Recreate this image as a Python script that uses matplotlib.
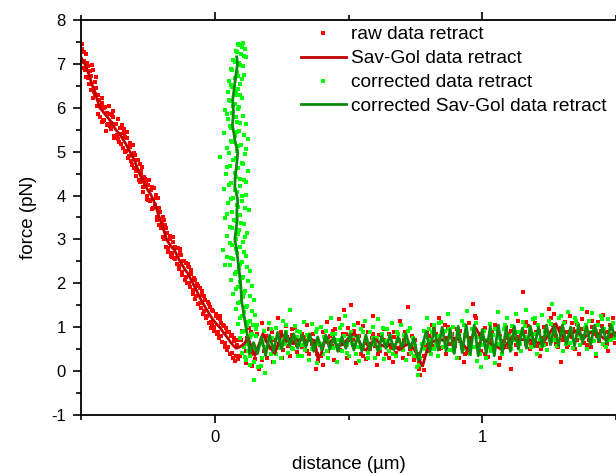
import matplotlib
matplotlib.use('Agg')
import matplotlib.pyplot as plt
from matplotlib.ticker import MultipleLocator

plt.rcParams['font.family'] = ['Liberation Sans', 'DejaVu Sans']
plt.rcParams['axes.unicode_minus'] = False

# raw data retract (red dots): slope part + baseline part
raw_x = [
  -0.497, -0.493, -0.487, -0.483, -0.477, -0.473, -0.467, -0.463, -0.457, -0.453,
  -0.447, -0.443, -0.437, -0.433, -0.427, -0.423, -0.417, -0.413, -0.407, -0.403,
  -0.397, -0.393, -0.387, -0.383, -0.377, -0.373, -0.367, -0.363, -0.357, -0.353,
  -0.347, -0.343, -0.337, -0.333, -0.327, -0.323, -0.317, -0.313, -0.307, -0.303,
  -0.297, -0.293, -0.287, -0.283, -0.277, -0.273, -0.267, -0.263, -0.257, -0.253,
  -0.247, -0.243, -0.237, -0.233, -0.227, -0.223, -0.217, -0.213, -0.207, -0.203,
  -0.197, -0.193, -0.187, -0.183, -0.177, -0.173, -0.167, -0.163, -0.157, -0.153,
  -0.147, -0.143, -0.137, -0.133, -0.127, -0.123, -0.117, -0.113, -0.107, -0.103,
  -0.097, -0.093, -0.087, -0.083, -0.077, -0.073, -0.067, -0.063, -0.057, -0.053,
  -0.047, -0.043, -0.037, -0.033, -0.027, -0.023, -0.017, -0.013, -0.007, -0.003,
  0.003, 0.007, 0.013, 0.017, 0.023, 0.027, 0.033, 0.037, 0.043, 0.047,
  0.053, 0.057, 0.063, 0.067, 0.073, 0.077, 0.083, 0.087,
  -0.495, -0.480, -0.460, -0.445, -0.420, -0.400, -0.380, -0.340, -0.310, -0.280,
  -0.250, -0.220, -0.190, -0.160, -0.130, -0.100, -0.070, -0.040, -0.010, 0.020,
  0.095, 0.102, 0.108, 0.115, 0.121, 0.128, 0.134, 0.141, 0.147, 0.152,
  0.158, 0.165, 0.171, 0.178, 0.184, 0.190, 0.197, 0.203, 0.210, 0.216,
  0.223, 0.229, 0.236, 0.242, 0.249, 0.255, 0.262, 0.268, 0.275, 0.281,
  0.288, 0.294, 0.301, 0.307, 0.314, 0.320, 0.327, 0.333, 0.340, 0.346,
  0.353, 0.359, 0.366, 0.372, 0.379, 0.385, 0.392, 0.398, 0.405, 0.411,
  0.418, 0.424, 0.431, 0.437, 0.444, 0.450, 0.457, 0.463, 0.470, 0.476,
  0.483, 0.489, 0.496, 0.502, 0.509, 0.515, 0.522, 0.528, 0.535, 0.541,
  0.548, 0.554, 0.561, 0.567, 0.574, 0.580, 0.587, 0.593, 0.600, 0.606,
  0.613, 0.619, 0.626, 0.632, 0.639, 0.645, 0.652, 0.658, 0.665, 0.671,
  0.678, 0.684, 0.691, 0.697, 0.704, 0.710, 0.717, 0.723, 0.730, 0.736,
  0.743, 0.749, 0.756, 0.762, 0.769, 0.775, 0.782, 0.788, 0.795, 0.801,
  0.808, 0.814, 0.821, 0.827, 0.834, 0.840, 0.847, 0.853, 0.860, 0.866,
  0.873, 0.879, 0.886, 0.892, 0.899, 0.905, 0.912, 0.918, 0.925, 0.931,
  0.938, 0.944, 0.951, 0.957, 0.964, 0.970, 0.977, 0.983, 0.990, 0.996,
  1.003, 1.009, 1.016, 1.022, 1.029, 1.035, 1.042, 1.048, 1.055, 1.061,
  1.068, 1.074, 1.081, 1.087, 1.094, 1.100, 1.107, 1.113, 1.120, 1.126,
  1.133, 1.139, 1.146, 1.152, 1.159, 1.165, 1.172, 1.178, 1.185, 1.191,
  1.198, 1.204, 1.211, 1.217, 1.224, 1.230, 1.237, 1.243, 1.250, 1.256,
  1.263, 1.269, 1.276, 1.282, 1.289, 1.295, 1.302, 1.308, 1.315, 1.321,
  1.328, 1.334, 1.341, 1.347, 1.354, 1.360, 1.367, 1.373, 1.380, 1.386,
  1.393, 1.399, 1.406, 1.412, 1.419, 1.425, 1.432, 1.438, 1.445, 1.451,
  1.458, 1.464, 1.471, 1.477, 1.484, 1.490, 1.497,
]
raw_y = [
  7.34, 6.90, 7.06, 6.70, 7.02, 6.68, 6.84, 6.40, 6.85, 6.35,
  6.32, 6.45, 5.86, 6.18, 6.01, 6.22, 5.70, 5.99, 5.47, 5.88,
  6.05, 5.58, 5.66, 5.84, 5.30, 5.64, 5.38, 5.75, 5.21, 5.40,
  5.60, 5.09, 5.34, 5.02, 5.45, 4.85, 5.10, 4.78, 5.15, 4.62,
  4.93, 4.45, 4.82, 4.36, 4.48, 4.66, 4.08, 4.42, 4.30, 3.92,
  4.35, 3.88, 4.12, 3.70, 4.18, 3.79, 3.52, 3.95, 3.33, 3.62,
  3.40, 3.05, 3.34, 2.82, 3.15, 2.71, 3.08, 2.62, 3.05, 2.58,
  2.82, 2.44, 2.81, 2.32, 2.65, 2.20, 2.52, 2.08, 2.47, 2.00,
  2.38, 1.92, 2.21, 1.76, 2.12, 1.64, 1.98, 1.52, 1.90, 1.44,
  1.74, 1.29, 1.63, 1.22, 1.58, 1.10, 1.46, 0.98, 1.38, 0.92,
  1.30, 0.84, 1.22, 0.76, 1.10, 0.66, 1.02, 0.55, 0.98, 0.48,
  0.88, 0.40, 0.82, 0.30, 0.75, 0.22, 0.70, 0.28,
  7.45, 7.22, 6.98, 6.70, 5.68, 5.62, 5.92, 5.52, 4.70, 4.72,
  3.90, 4.02, 3.45, 2.60, 2.78, 2.44, 1.70, 1.72, 1.05, 1.26,
  0.35, 0.92, 0.60, 0.18, 0.75, 0.98, 0.40, 0.12, 0.55, 0.28,
  0.85, 0.05, 0.62, 1.10, 0.45, 0.80, 0.30, 0.95, 0.52, 0.20,
  0.70, 0.38, 1.22, 0.62, 0.88, 0.48, 0.75, 1.02, 0.58, 0.35,
  0.82, 0.65, 0.98, 0.44, 0.72, 0.90, 0.55, 0.78, 0.62, 1.05,
  0.40, 0.70, 0.85, 0.52, 0.05, 0.22, 0.60, 0.35, 0.90, 0.68,
  1.12, 0.45, 0.80, 0.58, 0.25, 0.95, 0.70, 1.18, 0.48, 0.62,
  1.40, 0.85, 0.30, 0.72, 1.50, 0.60, 0.92, 0.18, 0.55, 0.80,
  0.40, 1.02, 0.65, 0.28, 0.88, 0.50, 0.75, 1.25, 0.58, 0.15,
  0.82, 0.45, 0.70, 0.95, 0.38, 0.62, 0.85, 0.52, 0.20, 0.78,
  0.42, 0.68, 1.15, 0.55, 0.30, 0.88, 0.62, 1.45, 0.50, 0.80,
  0.25, 0.70, 0.40, 0.05, -0.10, 0.15, 0.35, 0.60, 0.90, 0.45,
  0.72, 1.05, 0.58, 0.85, 0.68, 1.20, 0.52, 0.90, 0.75, 0.40,
  1.00, 0.62, 0.85, 0.48, 0.72, 0.95, 0.30, 0.68, 0.55, 0.20,
  0.80, 0.42, 1.10, 0.70, 1.52, 0.92, 1.20, 0.60, 0.85, 0.45,
  0.75, 0.98, 0.55, 0.32, 0.70, 0.88, 0.48, 1.05, 0.62, 0.15,
  0.80, 0.40, 0.68, 1.00, 0.55, 0.85, 0.05, 0.72, 0.95, 0.60,
  1.15, 0.78, 0.45, 1.80, 0.88, 0.62, 1.02, 0.50, 0.80, 0.70,
  1.10, 0.58, 0.92, 0.35, 0.75, 1.00, 0.62, 0.85, 1.42, 0.68,
  1.05, 1.30, 0.80, 0.55, 0.95, 0.20, 0.72, 1.12, 0.88, 0.60,
  1.25, 0.78, 0.95, 0.50, 1.08, 0.40, 0.82, 1.18, 0.65, 0.92,
  1.35, 0.72, 0.55, 1.00, 0.85, 0.35, 1.12, 0.68, 0.92, 1.28,
  0.60, 0.88, 0.45, 1.05, 0.78, 1.20, 0.65,
]

# more raw points, as (x, y) pairs
raw_more = [
  (-0.499, 7.05), (-0.490, 7.28), (-0.485, 6.85), (-0.475, 6.95), (-0.469, 6.55),
  (-0.462, 6.72), (-0.455, 6.22), (-0.449, 6.58), (-0.441, 6.05), (-0.435, 6.30),
  (-0.429, 5.80), (-0.421, 6.10), (-0.415, 5.72), (-0.409, 6.02), (-0.401, 5.60),
  (-0.395, 5.85), (-0.389, 5.52), (-0.381, 5.78), (-0.375, 5.35), (-0.369, 5.62),
  (-0.361, 5.28), (-0.355, 5.55), (-0.349, 5.18), (-0.341, 5.42), (-0.335, 5.00),
  (-0.329, 5.30), (-0.321, 4.90), (-0.315, 5.20), (-0.309, 4.70), (-0.301, 4.98),
  (-0.295, 4.55), (-0.289, 4.80), (-0.281, 4.30), (-0.275, 4.55), (-0.269, 4.20),
  (-0.261, 4.38), (-0.255, 4.00), (-0.249, 4.25), (-0.241, 3.90), (-0.235, 4.20),
  (-0.229, 3.72), (-0.221, 3.95), (-0.215, 3.45), (-0.209, 3.72), (-0.201, 3.25),
  (-0.195, 3.50), (-0.189, 3.00), (-0.181, 3.25), (-0.175, 2.80), (-0.169, 3.02),
  (-0.161, 2.70), (-0.155, 2.95), (-0.149, 2.55), (-0.141, 2.80), (-0.135, 2.40),
  (-0.129, 2.68), (-0.121, 2.25), (-0.115, 2.50), (-0.109, 2.15), (-0.101, 2.40),
  (-0.095, 2.00), (-0.089, 2.30), (-0.081, 1.85), (-0.075, 2.08), (-0.069, 1.70),
  (-0.061, 1.95), (-0.055, 1.55), (-0.049, 1.82), (-0.041, 1.38), (-0.035, 1.62),
  (-0.029, 1.25), (-0.021, 1.52), (-0.015, 1.12), (-0.009, 1.40), (-0.001, 1.00),
  (0.005, 1.25), (0.011, 0.90), (0.019, 1.18), (0.025, 0.80), (0.031, 1.05),
  (0.039, 0.65), (0.045, 0.90), (0.051, 0.55), (0.059, 0.80), (0.065, 0.42),
  (0.071, 0.68), (0.079, 0.35), (0.085, 0.60),
  (0.099, 0.70), (0.118, 0.45), (0.137, 0.88), (0.156, 0.50), (0.175, 0.25),
  (0.194, 0.68), (0.213, 0.90), (0.232, 0.55), (0.251, 0.30), (0.270, 0.78),
  (0.289, 0.95), (0.308, 0.60), (0.327, 0.85), (0.346, 0.45), (0.365, 0.62),
  (0.384, 0.40), (0.403, 0.15), (0.422, 0.75), (0.441, 0.92), (0.460, 0.50),
  (0.479, 0.85), (0.498, 0.98), (0.517, 0.72), (0.536, 1.10), (0.555, 0.35),
  (0.574, 0.62), (0.593, 0.85), (0.612, 0.40), (0.631, 0.70), (0.650, 0.30),
  (0.669, 0.88), (0.688, 0.52), (0.707, 0.72), (0.726, 0.38), (0.745, 0.60),
  (0.764, 0.20), (0.783, 0.02), (0.802, 0.80), (0.821, 0.95), (0.840, 0.50),
  (0.859, 1.05), (0.878, 0.80), (0.897, 0.58), (0.916, 0.92), (0.935, 0.40),
  (0.954, 0.75), (0.973, 1.25), (0.992, 0.62), (1.011, 0.40), (1.030, 0.82),
  (1.049, 0.58), (1.068, 0.30), (1.087, 0.75), (1.106, 0.92), (1.125, 0.40),
  (1.144, 0.85), (1.163, 1.12), (1.182, 0.62), (1.201, 0.88), (1.220, 0.50),
  (1.239, 0.95), (1.258, 1.20), (1.277, 0.62), (1.296, 0.98), (1.315, 0.55),
  (1.334, 1.10), (1.353, 0.72), (1.372, 0.95), (1.391, 0.60), (1.410, 1.15),
  (1.429, 0.80), (1.448, 1.02), (1.467, 0.62), (1.486, 0.95),
]

# Sav-Gol smoothed raw data
sg_x = [
  -0.500, -0.490, -0.480, -0.470, -0.460, -0.450, -0.440, -0.430, -0.420, -0.410,
  -0.400, -0.390, -0.380, -0.370, -0.360, -0.350, -0.340, -0.330, -0.320, -0.310,
  -0.300, -0.290, -0.280, -0.270, -0.260, -0.250, -0.240, -0.230, -0.220, -0.210,
  -0.200, -0.190, -0.180, -0.170, -0.160, -0.150, -0.140, -0.130, -0.120, -0.110,
  -0.100, -0.090, -0.080, -0.070, -0.060, -0.050, -0.040, -0.030, -0.020, -0.010,
  0.000, 0.010, 0.020, 0.030, 0.040, 0.050, 0.060, 0.070, 0.080,
  0.093, 0.110, 0.125, 0.138, 0.150, 0.165, 0.180, 0.193, 0.205, 0.224,
  0.238, 0.250, 0.268, 0.280, 0.293, 0.305, 0.317, 0.330, 0.342, 0.355,
  0.373, 0.386, 0.398, 0.412, 0.425, 0.441, 0.460, 0.480, 0.500, 0.522,
  0.540, 0.555, 0.566, 0.585, 0.603, 0.620, 0.640, 0.660, 0.690, 0.710,
  0.728, 0.750, 0.765, 0.777, 0.790, 0.802, 0.820, 0.839, 0.858, 0.877,
  0.895, 0.914, 0.930, 0.945, 0.960, 0.976, 0.990, 1.001, 1.016, 1.032,
  1.055, 1.076, 1.095, 1.113, 1.130, 1.151, 1.170, 1.188, 1.205, 1.225,
  1.250, 1.275, 1.292, 1.312, 1.330, 1.350, 1.368, 1.387, 1.405, 1.424,
  1.443, 1.462, 1.480, 1.496,
]
sg_y = [
  7.15, 7.05, 6.92, 6.75, 6.55, 6.38, 6.20, 6.00, 5.93, 5.85,
  5.78, 5.70, 5.60, 5.50, 5.43, 5.35, 5.25, 5.15, 5.03, 4.92,
  4.80, 4.63, 4.48, 4.35, 4.22, 4.12, 4.03, 3.90, 3.75, 3.55,
  3.38, 3.20, 3.00, 2.90, 2.82, 2.75, 2.62, 2.50, 2.40, 2.30,
  2.22, 2.10, 1.98, 1.86, 1.73, 1.61, 1.50, 1.40, 1.30, 1.20,
  1.12, 1.05, 0.99, 0.90, 0.82, 0.74, 0.65, 0.58, 0.52,
  0.55, 0.62, 0.77, 0.52, 0.35, 0.60, 0.85, 0.68, 0.55, 0.40,
  0.62, 0.85, 0.68, 0.75, 0.65, 0.72, 0.68, 0.75, 0.66, 0.72,
  0.70, 0.28, 0.40, 0.70, 0.62, 0.72, 0.55, 0.62, 0.75, 0.87,
  0.68, 0.50, 0.48, 0.65, 0.72, 0.60, 0.55, 0.62, 0.48, 0.58,
  0.62, 0.45, 0.25, 0.12, 0.40, 0.62, 0.68, 0.72, 0.70, 0.79,
  0.75, 0.72, 0.60, 0.48, 0.75, 0.98, 0.82, 0.72, 0.68, 0.62,
  0.55, 0.48, 0.65, 0.79, 0.70, 0.72, 0.68, 0.72, 0.65, 0.62,
  0.85, 1.08, 0.85, 0.72, 0.82, 0.92, 0.82, 0.79, 0.88, 0.90,
  0.80, 0.71, 0.82, 0.87,
]

# corrected data retract (green dots): vertical part + baseline part
cor_x = [
  0.105, 0.092, 0.112, 0.078, 0.098, 0.118, 0.070, 0.090, 0.104, 0.062,
  0.084, 0.110, 0.074, 0.052, 0.095, 0.066, 0.088, 0.048, 0.080, 0.100,
  0.058, 0.074, 0.092, 0.040, 0.066, 0.105, 0.050, 0.082, 0.118, 0.060,
  0.090, 0.035, 0.074, 0.124, 0.064, 0.098, 0.045, 0.084, 0.112, 0.020,
  0.070, 0.100, 0.056, 0.088, 0.126, 0.042, 0.078, 0.108, 0.062, 0.094,
  0.036, 0.082, 0.118, 0.070, 0.100, 0.050, 0.088, 0.128, 0.064, 0.096,
  0.040, 0.078, 0.110, 0.058, 0.090, 0.120, 0.046, 0.080, 0.104, 0.066,
  0.094, 0.032, 0.084, 0.116, 0.070, 0.100, 0.056, 0.090, 0.130, 0.074,
  0.106, 0.062, 0.096, 0.140, 0.080, 0.112, 0.070, 0.104, 0.146, 0.088,
  0.120, 0.078, 0.110, 0.150, 0.096, 0.130, 0.086, 0.120, 0.156, 0.102,
  0.136, 0.094, 0.124, 0.110, 0.140, 0.100, 0.130, 0.118, 0.148, 0.045,
  0.040,
  0.132, 0.138, 0.145, 0.151, 0.157, 0.163, 0.170, 0.176, 0.183, 0.189,
  0.196, 0.202, 0.209, 0.215, 0.222, 0.228, 0.235, 0.241, 0.248, 0.254,
  0.261, 0.267, 0.274, 0.280, 0.287, 0.293, 0.300, 0.306, 0.313, 0.319,
  0.326, 0.332, 0.339, 0.345, 0.352, 0.358, 0.365, 0.371, 0.378, 0.384,
  0.391, 0.397, 0.404, 0.410, 0.417, 0.423, 0.430, 0.436, 0.443, 0.449,
  0.456, 0.462, 0.469, 0.475, 0.482, 0.488, 0.495, 0.501, 0.508, 0.514,
  0.521, 0.527, 0.534, 0.540, 0.547, 0.553, 0.560, 0.566, 0.573, 0.579,
  0.586, 0.592, 0.599, 0.605, 0.612, 0.618, 0.625, 0.631, 0.638, 0.644,
  0.651, 0.657, 0.664, 0.670, 0.677, 0.683, 0.690, 0.696, 0.703, 0.709,
  0.716, 0.722, 0.729, 0.735, 0.742, 0.748, 0.755, 0.761, 0.768, 0.774,
  0.781, 0.787, 0.794, 0.800, 0.807, 0.813, 0.820, 0.826, 0.833, 0.839,
  0.846, 0.852, 0.859, 0.865, 0.872, 0.878, 0.885, 0.891, 0.898, 0.904,
  0.911, 0.917, 0.924, 0.930, 0.937, 0.943, 0.950, 0.956, 0.963, 0.969,
  0.976, 0.982, 0.989, 0.995, 1.002, 1.008, 1.015, 1.021, 1.028, 1.034,
  1.041, 1.047, 1.054, 1.060, 1.067, 1.073, 1.080, 1.086, 1.093, 1.099,
  1.106, 1.112, 1.119, 1.125, 1.132, 1.138, 1.145, 1.151, 1.158, 1.164,
  1.171, 1.177, 1.184, 1.190, 1.197, 1.203, 1.210, 1.216, 1.223, 1.229,
  1.236, 1.242, 1.249, 1.255, 1.262, 1.268, 1.275, 1.281, 1.288, 1.294,
  1.301, 1.307, 1.314, 1.320, 1.327, 1.333, 1.340, 1.346, 1.353, 1.359,
  1.366, 1.372, 1.379, 1.385, 1.392, 1.398, 1.405, 1.411, 1.418, 1.424,
  1.431, 1.437, 1.444, 1.450, 1.457, 1.463, 1.470, 1.476, 1.483, 1.489,
  1.496,
]
cor_y = [
  7.48, 7.42, 7.35, 7.30, 7.22, 7.15, 7.08, 7.02, 6.95, 6.88,
  6.82, 6.75, 6.68, 6.62, 6.55, 6.48, 6.42, 6.35, 6.28, 6.22,
  6.15, 6.08, 6.02, 5.95, 5.88, 5.82, 5.75, 5.68, 5.62, 5.55,
  5.48, 5.42, 5.35, 5.28, 5.22, 5.15, 5.08, 5.02, 4.95, 4.88,
  4.82, 4.75, 4.68, 4.62, 4.55, 4.48, 4.42, 4.35, 4.28, 4.22,
  4.15, 4.08, 4.02, 3.95, 3.88, 3.82, 3.75, 3.68, 3.62, 3.55,
  3.48, 3.42, 3.35, 3.28, 3.22, 3.15, 3.08, 3.02, 2.95, 2.88,
  2.82, 2.75, 2.68, 2.62, 2.55, 2.48, 2.42, 2.35, 2.28, 2.22,
  2.15, 2.08, 2.02, 1.95, 1.88, 1.82, 1.75, 1.68, 1.62, 1.55,
  1.48, 1.42, 1.35, 1.28, 1.22, 1.15, 1.08, 1.02, 0.95, 0.88,
  0.82, 0.75, 0.68, 0.55, 0.50, 0.42, 0.35, 0.25, 0.20, 2.60,
  2.42,
  0.15, 0.85, -0.20, 0.45, 1.05, 0.10, 0.62, 0.30, 0.92, -0.05,
  0.55, 1.10, 0.38, 0.75, 0.20, 0.98, 0.52, 0.80, 0.30, 1.15,
  0.62, 0.88, 0.42, 1.40, 0.70, 0.50, 1.02, 0.78, 0.35, 0.90,
  0.60, 1.12, 0.48, 0.82, 0.25, 0.70, 1.08, 0.55, 0.88, 0.18,
  0.62, 1.00, 0.40, 0.78, 0.92, 0.30, 0.68, 1.20, 0.52, 0.85,
  0.20, 0.72, 0.98, 0.45, 0.80, 1.25, 0.60, 0.35, 0.90, 0.65,
  1.05, 0.40, 0.78, 0.22, 0.95, 0.58, 1.15, 0.70, 0.42, 0.88,
  0.62, 1.00, 0.30, 0.75, 1.18, 0.52, 0.85, 0.28, 0.68, 0.95,
  0.45, 0.80, 1.10, 0.60, 0.35, 0.90, 0.72, 1.05, 0.48, 0.82,
  0.25, 0.65, 0.98, 0.42, 0.75, 0.58, 0.10, -0.08, 0.30, 0.62,
  0.92, 0.50, 1.20, 0.72, 0.40, 0.88, 1.05, 0.60, 0.35, 0.80,
  1.12, 0.55, 0.92, 0.70, 1.30, 0.48, 0.85, 1.00, 0.62, 0.30,
  0.95, 0.72, 1.15, 0.50, 0.82, 1.38, 0.68, 0.40, 0.95, 0.55,
  1.10, 0.22, 0.78, 0.10, 0.60, 0.92, 0.30, 0.70, 1.08, 0.45,
  0.82, 0.18, 0.62, 1.35, 0.75, 0.40, 0.95, 0.58, 1.22, 0.80,
  0.50, 1.02, 0.70, 1.30, 0.62, 0.90, 0.45, 1.12, 0.78, 1.40,
  0.68, 0.95, 0.55, 1.18, 0.85, 0.40, 1.05, 0.72, 1.28, 0.60,
  0.92, 0.48, 1.15, 0.80, 1.52, 0.70, 1.00, 0.58, 1.22, 0.85,
  0.45, 1.10, 0.75, 1.35, 0.65, 0.95, 0.52, 1.20, 0.82, 1.05,
  0.60, 1.42, 0.78, 0.98, 0.50, 1.15, 0.88, 1.32, 0.68, 0.40,
  1.05, 0.80, 1.25, 0.62, 0.95, 0.55, 1.18, 0.85, 0.70, 1.10,
  0.75,
]

cor_more = [
  (0.088, 7.45), (0.100, 7.38), (0.084, 7.26), (0.108, 7.18), (0.076, 7.05),
  (0.096, 6.98), (0.066, 6.85), (0.086, 6.72), (0.102, 6.65), (0.060, 6.52),
  (0.080, 6.38), (0.094, 6.30), (0.054, 6.18), (0.070, 6.05), (0.086, 5.98),
  (0.046, 5.85), (0.078, 5.78), (0.096, 5.65), (0.056, 5.58), (0.084, 5.45),
  (0.110, 5.38), (0.060, 5.25), (0.088, 5.12), (0.116, 5.05), (0.054, 4.98),
  (0.080, 4.85), (0.104, 4.72), (0.044, 4.65), (0.074, 4.52), (0.096, 4.38),
  (0.118, 4.32), (0.052, 4.25), (0.076, 4.12), (0.100, 3.98), (0.060, 3.92),
  (0.084, 3.78), (0.112, 3.72), (0.046, 3.58), (0.072, 3.45), (0.098, 3.38),
  (0.066, 3.25), (0.086, 3.12), (0.114, 3.05), (0.056, 2.92), (0.078, 2.78),
  (0.108, 2.72), (0.062, 2.58), (0.094, 2.45), (0.120, 2.38), (0.080, 2.25),
  (0.102, 2.12), (0.126, 2.05), (0.088, 1.92), (0.108, 1.78), (0.132, 1.72),
  (0.094, 1.58), (0.116, 1.45), (0.138, 1.38), (0.100, 1.25), (0.124, 1.12),
  (0.144, 1.05), (0.108, 0.92), (0.132, 0.78), (0.116, 0.62), (0.142, 0.58),
  (0.124, 0.45), (0.112, 0.32),
  (0.135, 0.55), (0.154, 0.80), (0.173, 0.12), (0.192, 0.70), (0.211, 0.95),
  (0.230, 0.40), (0.249, 0.68), (0.268, 1.05), (0.287, 0.52), (0.306, 0.92),
  (0.325, 0.35), (0.344, 0.72), (0.363, 0.50), (0.382, 0.95), (0.401, 0.62),
  (0.420, 0.45), (0.439, 0.85), (0.458, 0.60), (0.477, 1.05), (0.496, 0.42),
  (0.515, 0.80), (0.534, 0.55), (0.553, 0.90), (0.572, 0.30), (0.591, 0.75),
  (0.610, 0.55), (0.629, 0.98), (0.648, 0.62), (0.667, 0.40), (0.686, 0.85),
  (0.705, 0.60), (0.724, 0.92), (0.743, 0.35), (0.762, 0.15), (0.781, 0.65),
  (0.800, 0.95), (0.819, 0.50), (0.838, 1.10), (0.857, 0.70), (0.876, 0.95),
  (0.895, 0.45), (0.914, 0.80), (0.933, 1.05), (0.952, 0.60), (0.971, 0.85),
  (0.990, 0.40), (1.009, 0.72), (1.028, 0.55), (1.047, 0.95), (1.066, 0.60),
  (1.085, 1.05), (1.104, 0.70), (1.123, 0.88), (1.142, 0.62), (1.161, 1.02),
  (1.180, 0.75), (1.199, 1.20), (1.218, 0.58), (1.237, 0.85), (1.256, 1.08),
  (1.275, 0.72), (1.294, 1.25), (1.313, 0.62), (1.332, 0.90), (1.351, 1.15),
  (1.370, 0.75), (1.389, 1.05), (1.408, 0.68), (1.427, 0.92), (1.446, 1.18),
  (1.465, 0.72), (1.484, 1.00),
]

# corrected Sav-Gol
csg_x = [
  0.082, 0.085, 0.078, 0.072, 0.067, 0.070, 0.066, 0.072, 0.075, 0.086,
  0.080, 0.076, 0.075, 0.086, 0.082, 0.084, 0.075, 0.082, 0.092, 0.098,
  0.100, 0.106, 0.112, 0.118, 0.123, 0.128,
  0.130, 0.145, 0.160, 0.175, 0.190, 0.205, 0.220, 0.235, 0.250, 0.265,
  0.280, 0.295, 0.310, 0.325, 0.340, 0.355, 0.370, 0.385, 0.400, 0.415,
  0.430, 0.445, 0.460, 0.475, 0.490, 0.505, 0.520, 0.535, 0.550, 0.565,
  0.580, 0.595, 0.610, 0.625, 0.640, 0.655, 0.670, 0.685, 0.700, 0.715,
  0.730, 0.745, 0.760, 0.775, 0.790, 0.805, 0.820, 0.835, 0.850, 0.865,
  0.880, 0.895, 0.910, 0.925, 0.940, 0.955, 0.970, 0.985, 1.000, 1.015,
  1.030, 1.045, 1.060, 1.075, 1.090, 1.105, 1.120, 1.135, 1.150, 1.165,
  1.180, 1.195, 1.210, 1.225, 1.240, 1.255, 1.270, 1.285, 1.300, 1.315,
  1.330, 1.345, 1.360, 1.375, 1.390, 1.405, 1.420, 1.435, 1.450, 1.465,
  1.480, 1.496,
]
csg_y = [
  7.16, 7.00, 6.70, 6.40, 6.18, 5.90, 5.60, 5.40, 5.27, 4.97,
  4.60, 4.40, 4.20, 3.90, 3.60, 3.44, 2.99, 2.76, 2.24, 1.90,
  1.62, 1.40, 1.17, 0.95, 0.78, 0.55,
  0.40, 0.65, 0.40, 0.78, 0.35, 0.82, 0.45, 0.88, 0.50, 0.90,
  0.58, 0.85, 0.52, 0.82, 0.55, 0.85, 0.45, 0.78, 0.48, 0.82,
  0.50, 0.78, 0.45, 0.78, 0.52, 0.85, 0.48, 0.80, 0.45, 0.82,
  0.48, 0.75, 0.45, 0.80, 0.52, 0.82, 0.48, 0.78, 0.55, 0.85,
  0.52, 0.75, 0.25, 0.55, 0.90, 0.45, 0.98, 0.48, 1.00, 0.45,
  0.95, 0.40, 1.02, 0.42, 1.05, 0.38, 1.05, 0.35, 0.95, 0.40,
  1.02, 0.35, 1.05, 0.42, 1.00, 0.45, 1.02, 0.50, 0.98, 0.52,
  1.02, 0.55, 1.00, 0.55, 1.05, 0.60, 1.02, 0.58, 1.05, 0.62,
  1.00, 0.58, 1.05, 0.65, 1.02, 0.60, 1.05, 0.68, 1.00, 0.65,
  1.05, 0.80,
]

labels = ['raw data retract', 'Sav-Gol data retract',
          'corrected data retract', 'corrected Sav-Gol data retract']

raw_all_x = raw_x + [p[0] for p in raw_more]
raw_all_y = raw_y + [p[1] for p in raw_more]
cor_all_x = cor_x + [p[0] for p in cor_more]
cor_all_y = cor_y + [p[1] for p in cor_more]

fig = plt.figure(figsize=(6.16, 4.74), dpi=100)
ax = fig.add_axes([0.1315, 0.1245, 0.8685, 0.8333])

ax.plot(raw_all_x, raw_all_y, 's', color='#ff0000', ms=2.5, mew=0, label=labels[0])
ax.plot(cor_all_x, cor_all_y, 's', color='#00ff00', ms=2.5, mew=0, label=labels[2])
ax.plot(sg_x, sg_y, '-', color='#c00000', lw=2, label=labels[1])
ax.plot(csg_x, csg_y, '-', color='#0a8a0a', lw=2, label=labels[3])

ax.set_xlim(-0.5, 1.5)
ax.set_ylim(-1, 8)
ax.xaxis.set_major_locator(MultipleLocator(1))
ax.xaxis.set_minor_locator(MultipleLocator(0.5))
ax.yaxis.set_major_locator(MultipleLocator(1))
ax.yaxis.set_minor_locator(MultipleLocator(0.5))

ax.spines['right'].set_visible(False)
for s in ['left', 'bottom', 'top']:
  ax.spines[s].set_linewidth(1.3)
ax.tick_params(which='both', direction='out', width=1.2, labelsize=12,
               top=True, right=False)
ax.tick_params(which='major', length=6, pad=5)
ax.tick_params(which='minor', length=3.5)

ax.set_xlabel('distance (µm)', fontsize=13.5, labelpad=8)
ax.set_ylabel('force (pN)', fontsize=13.5, labelpad=10)

h, l = ax.get_legend_handles_labels()
order = [0, 2, 1, 3]
leg = ax.legend([h[i] for i in order], [l[i] for i in order],
                loc='upper left', bbox_to_anchor=(0.412, 0.985),
                frameon=False, fontsize=13.8, handlelength=2.3,
                handletextpad=0.3, labelspacing=0.34, markerscale=1.2,
                borderaxespad=0, borderpad=0)

fig.savefig('out.png', dpi=100)
